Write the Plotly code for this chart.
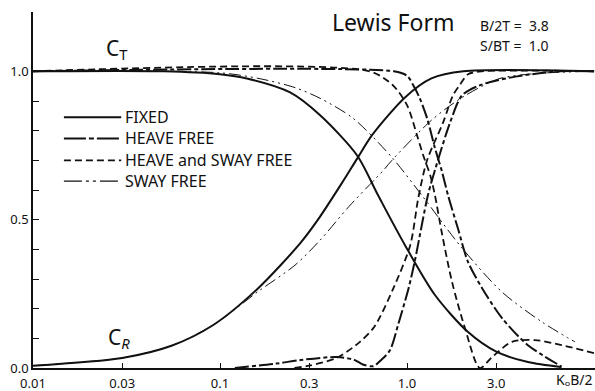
import plotly.graph_objects as go

# Transmission (C_T) and reflection (C_R) coefficients vs K0*B/2
fixed_ct_x = [0.01, 0.05, 0.1, 0.139, 0.237, 0.343, 0.54, 0.70, 0.975, 1.41, 2.12, 3.0, 4.43, 6.7]
fixed_ct_y = [1.0, 1.0, 0.99, 0.976, 0.929, 0.852, 0.717, 0.582, 0.414, 0.246, 0.121, 0.055, 0.02, 0.003]
fixed_cr_x = [0.01, 0.03, 0.055, 0.092, 0.16, 0.268, 0.334, 0.45, 0.54, 0.65, 0.975, 1.35, 2.0, 10.0]
fixed_cr_y = [0.008, 0.034, 0.075, 0.145, 0.269, 0.42, 0.50, 0.625, 0.705, 0.785, 0.912, 0.976, 1.0, 1.0]

heave_ct_x = [0.01, 0.85, 1.0, 1.08, 1.17, 1.28, 1.41, 1.53, 1.66, 1.87, 2.12, 2.52, 3.22, 4.43, 6.7]
heave_ct_y = [1.0, 1.0, 0.985, 0.953, 0.909, 0.842, 0.741, 0.667, 0.58, 0.471, 0.357, 0.269, 0.168, 0.077, 0.005]
heave_cr_x = [0.12, 0.2, 0.27, 0.42, 0.52, 0.58, 0.66, 0.73, 0.81, 0.9, 1.02, 1.10, 1.29, 1.41, 1.70, 1.97, 2.5, 3.87, 6.6, 10.0]
heave_cr_y = [0.0, 0.015, 0.027, 0.037, 0.028, 0.012, 0.006, 0.028, 0.06, 0.15, 0.27, 0.36, 0.58, 0.667, 0.828, 0.919, 0.955, 0.983, 1.0, 1.0]

hs_ct_x = [0.01, 0.63, 0.84, 1.0, 1.13, 1.22, 1.33, 1.41, 1.53, 1.74, 2.04, 2.45, 2.85, 3.64, 4.83, 6.7, 10.0]
hs_ct_y = [1.0, 1.0, 0.953, 0.886, 0.785, 0.717, 0.65, 0.582, 0.46, 0.29, 0.135, 0.0, 0.037, 0.088, 0.094, 0.077, 0.05]
hs_cr_x = [0.25, 0.3, 0.42, 0.56, 0.67, 0.84, 1.04, 1.15, 1.28, 1.56, 1.76, 1.92, 2.12, 2.5, 10.0]
hs_cr_y = [0.0, 0.008, 0.034, 0.088, 0.14, 0.265, 0.414, 0.575, 0.70, 0.828, 0.919, 0.955, 0.99, 1.0, 1.0]

sway_ct_x = [0.01, 0.1, 0.164, 0.252, 0.343, 0.514, 0.83, 1.20, 1.97, 3.22, 5.27, 7.9]
sway_ct_y = [1.0, 0.995, 0.975, 0.945, 0.909, 0.842, 0.71, 0.582, 0.404, 0.256, 0.155, 0.088]
sway_cr_x = [0.01, 0.03, 0.055, 0.092, 0.16, 0.252, 0.343, 0.49, 0.744, 0.83, 1.35, 1.97, 3.1, 5.0, 10.0]
sway_cr_y = [0.008, 0.034, 0.075, 0.145, 0.258, 0.347, 0.431, 0.545, 0.665, 0.70, 0.835, 0.912, 0.975, 0.993, 1.0]

x_tick_vals = [0.01, 0.03, 0.1, 0.3, 1.0, 3.0]
x_tick_text = ["0.01", "0.03", "0.1", "0.3", "1.0", "3.0"]
y_tick_vals = [0.0, 0.5, 1.0]
y_tick_text = ["0.0", "0.5", "1.0"]

legend_names = ["FIXED", "HEAVE FREE", "HEAVE and SWAY FREE", "SWAY FREE"]

INK = "#111111"
FONT = "Noto Sans"

styles = {
    "FIXED": dict(width=2.0, dash="solid"),
    "HEAVE FREE": dict(width=2.0, dash="14px,3px,4px,3px"),
    "HEAVE and SWAY FREE": dict(width=1.8, dash="7px,4px"),
    "SWAY FREE": dict(width=1.0, dash="12px,4px,2px,4px,2px,4px"),
}

series = [
    ("FIXED", fixed_ct_x, fixed_ct_y), ("FIXED", fixed_cr_x, fixed_cr_y),
    ("HEAVE FREE", heave_ct_x, heave_ct_y), ("HEAVE FREE", heave_cr_x, heave_cr_y),
    ("HEAVE and SWAY FREE", hs_ct_x, hs_ct_y), ("HEAVE and SWAY FREE", hs_cr_x, hs_cr_y),
    ("SWAY FREE", sway_ct_x, sway_ct_y), ("SWAY FREE", sway_cr_x, sway_cr_y),
]

fig = go.Figure()
for name, xs, ys in series:
    st = styles[name]
    fig.add_trace(go.Scatter(
        x=xs, y=ys, mode="lines", name=name, showlegend=False,
        line=dict(color=INK, width=st["width"], dash=st["dash"], shape="spline", smoothing=0.8),
    ))

# Hand-drawn style key
key_y = [0.845, 0.774, 0.700, 0.630]
legend_dash = {
    "FIXED": "solid",
    "HEAVE FREE": "22px,3px,5px,3px",
    "HEAVE and SWAY FREE": "7px,4px",
    "SWAY FREE": "18px,4px,3px,4px,3px,4px",
}
for name, ky in zip(legend_names, key_y):
    st = styles[name]
    fig.add_shape(type="line", xref="paper", yref="y", x0=0.055, x1=0.157, y0=ky, y1=ky,
                  line=dict(color=INK, width=st["width"] if name != "SWAY FREE" else 1.2,
                            dash=legend_dash[name]))
    fig.add_annotation(xref="paper", yref="y", x=0.160, y=ky, text=name, showarrow=False,
                       xanchor="left", yanchor="middle",
                       font=dict(family=FONT, size=16, color=INK))

notes = [
    dict(x=0.641, y=1.165, text="Lewis Form", size=23, xanchor="center"),
    dict(x=0.792, y=1.155, text="B/2T =  3.8", size=14, xanchor="left"),
    dict(x=0.792, y=1.088, text="S/BT =  1.0", size=14, xanchor="left"),
    dict(x=0.126, y=1.075, text="C<sub>T</sub>", size=21, xanchor="left"),
    dict(x=0.130, y=0.100, text="C<sub><i>R</i></sub>", size=21, xanchor="left"),
]
for n in notes:
    fig.add_annotation(xref="paper", yref="y", x=n["x"], y=n["y"], text=n["text"],
                       showarrow=False, xanchor=n["xanchor"], yanchor="middle",
                       font=dict(family=FONT, size=n["size"], color=INK))

# Abscissa label sits beside the tick labels, below the axis line
fig.add_annotation(xref="paper", yref="paper", x=0.996, y=-0.062, text="K\u2092B/2",
                   showarrow=False, xanchor="right", yanchor="bottom", borderpad=0,
                   font=dict(family=FONT, size=14, color=INK))

fig.update_xaxes(
    type="log", range=[-2, 1.005], tickvals=x_tick_vals, ticktext=x_tick_text,
    ticks="inside", ticklen=5, tickwidth=1.2, tickcolor=INK, ticklabelstandoff=3,
    showline=True, linecolor=INK, linewidth=1.5, showgrid=False, zeroline=False,
    tickfont=dict(family=FONT, size=13, color=INK),
)
fig.update_yaxes(
    range=[0, 1.2], tickvals=y_tick_vals, ticktext=y_tick_text,
    ticks="inside", ticklen=6, tickwidth=1.2, tickcolor=INK,
    minor=dict(tickvals=[0.1, 0.2, 0.3, 0.4, 0.6, 0.7, 0.8, 0.9], ticks="inside",
               ticklen=6, tickwidth=1.2, tickcolor=INK, showgrid=False),
    showline=True, linecolor=INK, linewidth=1.5, showgrid=False, zeroline=False,
    tickfont=dict(family=FONT, size=13, color=INK),
)
fig.update_layout(
    width=595, height=391, margin=dict(l=33, r=0, t=12, b=23),
    paper_bgcolor="white", plot_bgcolor="white", showlegend=False,
)

fig.write_html("out.html")
